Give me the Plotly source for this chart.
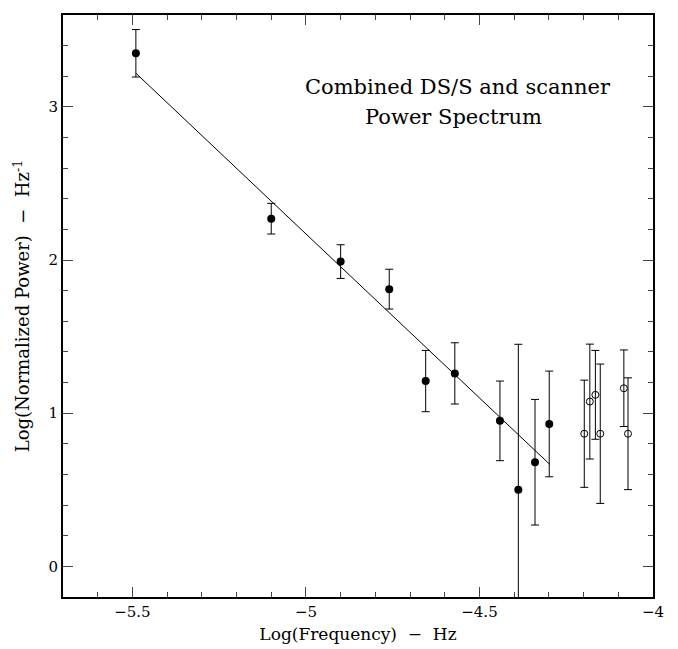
import plotly.graph_objects as go

# Filled points (combined DS/S)
filled_x = [-5.49, -5.10, -4.90, -4.76, -4.655, -4.571, -4.441, -4.388, -4.340, -4.299]
filled_y = [3.35, 2.27, 1.99, 1.81, 1.21, 1.26, 0.95, 0.50, 0.68, 0.93]
filled_err = [0.155, 0.10, 0.11, 0.13, 0.20, 0.20, 0.26, 0.95, 0.41, 0.345]

# Open points (scanner)
open_x = [-4.198, -4.182, -4.166, -4.152, -4.084, -4.072]
open_y = [0.866, 1.076, 1.12, 0.866, 1.163, 0.866]
open_err = [0.35, 0.375, 0.29, 0.455, 0.25, 0.365]

# Fitted power-law line
fit_x = [-5.49, -4.297]
fit_y = [3.22, 0.665]

title_lines = ["Combined DS/S and scanner", "Power Spectrum"]

FONT = "DejaVu Serif"

fig = go.Figure()

fig.add_trace(go.Scatter(
    x=fit_x, y=fit_y, mode="lines",
    line=dict(color="black", width=1), showlegend=False, hoverinfo="skip"))

fig.add_trace(go.Scatter(
    x=filled_x, y=filled_y, mode="markers",
    marker=dict(color="black", size=8, symbol="circle"),
    error_y=dict(type="data", array=filled_err, symmetric=True,
                 color="black", thickness=1, width=4),
    showlegend=False))

fig.add_trace(go.Scatter(
    x=open_x, y=open_y, mode="markers",
    marker=dict(color="black", size=7, symbol="circle-open",
                line=dict(color="black", width=1)),
    error_y=dict(type="data", array=open_err, symmetric=True,
                 color="black", thickness=1, width=4),
    showlegend=False))

fig.add_annotation(x=-4.562, y=3.13, text=title_lines[0], showarrow=False,
                   font=dict(family=FONT, size=21, color="black"),
                   xanchor="center", yanchor="middle")
fig.add_annotation(x=-4.575, y=2.935, text=title_lines[1], showarrow=False,
                   font=dict(family=FONT, size=21, color="black"),
                   xanchor="center", yanchor="middle")

axis_common = dict(
    showline=True, linecolor="black", linewidth=2, mirror="allticks",
    ticks="inside", ticklen=10, tickwidth=1, tickcolor="#444",
    showgrid=False, zeroline=False, automargin=False,
    tickfont=dict(family=FONT, size=15, color="black"),
)

fig.update_xaxes(
    range=[-5.7, -4.0], tick0=0, dtick=0.5,
    minor=dict(dtick=0.1, ticks="inside", ticklen=5, tickwidth=1, tickcolor="#444", showgrid=False),
    title=dict(text="Log(Frequency)  −  Hz", font=dict(family=FONT, size=17, color="black"), standoff=8),
    **axis_common)
fig.update_yaxes(
    range=[-0.2, 3.6], tick0=0, dtick=1,
    minor=dict(dtick=0.2, ticks="inside", ticklen=5, tickwidth=1, tickcolor="#444", showgrid=False),
    title=dict(text="Log(Normalized Power)  −  Hz<sup>-1</sup>", font=dict(family=FONT, size=18, color="black"), standoff=14),
    **axis_common)

fig.update_layout(
    width=678, height=649,
    margin=dict(l=63, r=25, t=15, b=52),
    plot_bgcolor="white", paper_bgcolor="white",
)

fig.write_html("out.html")
